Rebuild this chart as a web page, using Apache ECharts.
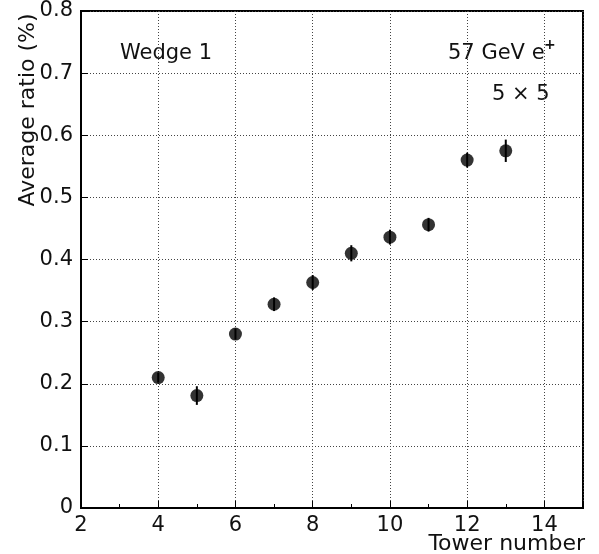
<!DOCTYPE html>
<html><head><meta charset="utf-8">
<script src="https://cdn.jsdelivr.net/npm/echarts@6/dist/echarts.min.js"></script>
<style>html,body{margin:0;padding:0;background:#fff}#c{width:599px;height:554px}</style>
</head><body><div id="c"></div>
<script>
var towers = [4, 5, 6, 7, 8, 9, 10, 11, 12, 13];
var ratios = [0.210, 0.181, 0.280, 0.328, 0.363, 0.410, 0.436, 0.456, 0.560, 0.575];
var errors = [0.008, 0.015, 0.009, 0.011, 0.012, 0.013, 0.012, 0.011, 0.012, 0.018];
var xTicks = [2, 4, 6, 8, 10, 12, 14];
var yTicks = [0, 0.1, 0.2, 0.3, 0.4, 0.5, 0.6, 0.7, 0.8];

var pts = towers.map(function (t, i) { return [t, ratios[i]]; });
var bars = towers.map(function (t, i) { return [t, ratios[i] - errors[i], ratios[i] + errors[i]]; });
var font = 'DejaVu Sans';
var ink = '#111';
var chart = echarts.init(document.getElementById('c'), null, {renderer: 'canvas'});
chart.setOption({
  animation: false,
  backgroundColor: '#fff',
  grid: {left: 81, right: 16, top: 11, bottom: 46, show: true, borderColor: '#000', borderWidth: 2, backgroundColor: 'transparent'},
  xAxis: {
    type: 'value', min: 2, max: 15, interval: 2,
    axisLine: {show: true, lineStyle: {color: '#000', width: 2}},
    axisTick: {show: true, inside: true, length: 7, lineStyle: {color: '#000'}},
    minorTick: {show: true, splitNumber: 2, length: 4, lineStyle: {color: '#000'}},
    axisLabel: {color: ink, fontFamily: font, fontSize: 21, margin: 7,
      formatter: function (v) { return xTicks.indexOf(v) >= 0 ? String(v) : ''; }},
    splitLine: {show: true, lineStyle: {color: '#444', type: [1, 2], width: 1}}
  },
  yAxis: {
    type: 'value', min: 0, max: 0.8, interval: 0.1,
    axisLine: {show: true, lineStyle: {color: '#000', width: 2}},
    axisTick: {show: true, inside: true, length: 7, lineStyle: {color: '#000'}},
    axisLabel: {color: ink, fontFamily: font, fontSize: 21, margin: 8,
      formatter: function (v) { var r = Math.round(v * 10) / 10; return yTicks.indexOf(r) >= 0 ? (r === 0 ? '0' : r.toFixed(1)) : ''; }},
    splitLine: {show: true, lineStyle: {color: '#444', type: [1, 2], width: 1}}
  },
  graphic: [
    {type: 'text', x: 28, y: 110, rotation: Math.PI / 2,
      style: {text: 'Average ratio (%)', fontFamily: font, fontSize: 22, fill: ink, align: 'center', verticalAlign: 'middle'}},
    {type: 'text', x: 120, y: 54, style: {text: 'Wedge 1', fontFamily: font, fontSize: 21, fill: ink, verticalAlign: 'middle'}},
    {type: 'text', x: 448, y: 54, style: {text: '57 GeV e', fontFamily: font, fontSize: 21, fill: ink, verticalAlign: 'middle'}},
    {type: 'text', x: 544, y: 45, style: {text: '+', fontFamily: font, fontSize: 14, fontWeight: 'bold', fill: ink, verticalAlign: 'middle'}},
    {type: 'text', x: 492, y: 95, style: {text: '5 × 5', fontFamily: font, fontSize: 21, fill: ink, verticalAlign: 'middle'}},
    {type: 'text', x: 585, y: 544, style: {text: 'Tower number', fontFamily: font, fontSize: 22, fill: ink, align: 'right', verticalAlign: 'middle'}}
  ],
  series: [
    {
      type: 'custom',
      data: bars,
      renderItem: function (params, api) {
        var x = api.value(0);
        var lo = api.coord([x, api.value(1)]);
        var hi = api.coord([x, api.value(2)]);
        return {type: 'line', shape: {x1: lo[0], y1: lo[1], x2: hi[0], y2: hi[1]}, style: {stroke: '#000', lineWidth: 2}};
      },
      z: 3
    },
    {
      type: 'scatter', data: pts, symbol: 'circle', symbolSize: 13,
      itemStyle: {color: '#000'}, z: 4
    }
  ]
});
</script></body></html>
